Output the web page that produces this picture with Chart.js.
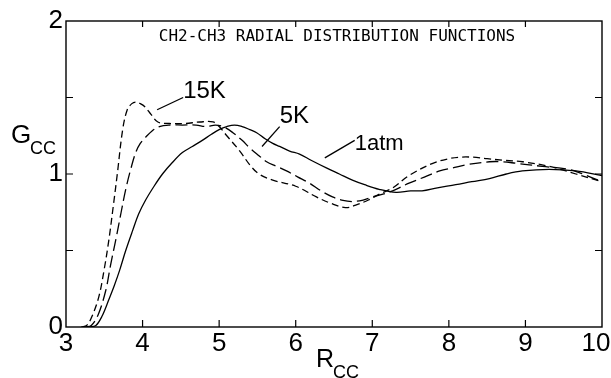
<!DOCTYPE html>
<html>
<head>
<meta charset="utf-8">
<script src="https://cdn.jsdelivr.net/npm/chart.js@4.4.0/dist/chart.umd.min.js"></script>
<style>
  html, body { margin: 0; padding: 0; background: #fff; }
  #wrap { width: 611px; height: 378px; }
</style>
</head>
<body>
<div id="wrap"><canvas id="rdfChart" width="611" height="378"></canvas></div>
<script>
// CH2-CH3 radial distribution functions
var r15K = [3.20, 3.27, 3.34, 3.43, 3.50, 3.56, 3.62, 3.67, 3.74, 3.80, 3.86, 3.91, 3.97, 4.03, 4.11, 4.20, 4.35, 4.55, 4.75, 4.92, 5.00, 5.10, 5.27, 5.40, 5.52, 5.70, 6.00, 6.27, 6.45, 6.65, 6.80, 6.95, 7.10, 7.27, 7.48, 7.79, 8.00, 8.14, 8.31, 8.50, 8.70, 8.96, 9.31, 9.66, 10.0];
var g15K = [0.00, 0.01, 0.07, 0.20, 0.38, 0.57, 0.80, 1.00, 1.29, 1.42, 1.46, 1.47, 1.46, 1.44, 1.39, 1.34, 1.33, 1.33, 1.34, 1.34, 1.31, 1.25, 1.15, 1.06, 1.00, 0.96, 0.92, 0.85, 0.81, 0.78, 0.80, 0.83, 0.87, 0.91, 0.99, 1.07, 1.10, 1.11, 1.11, 1.10, 1.09, 1.08, 1.05, 1.00, 0.95];

var r5K = [3.25, 3.33, 3.42, 3.52, 3.58, 3.65, 3.72, 3.78, 3.85, 3.91, 3.97, 4.04, 4.12, 4.22, 4.35, 4.52, 4.70, 4.83, 4.95, 5.05, 5.18, 5.30, 5.40, 5.52, 5.62, 5.75, 5.88, 6.03, 6.18, 6.33, 6.48, 6.60, 6.74, 6.88, 7.00, 7.15, 7.31, 7.48, 7.68, 7.88, 8.05, 8.22, 8.53, 8.70, 8.88, 9.22, 9.57, 9.80, 10.0];
var g5K = [0.00, 0.01, 0.08, 0.24, 0.40, 0.57, 0.75, 0.90, 1.04, 1.14, 1.20, 1.24, 1.28, 1.31, 1.32, 1.32, 1.32, 1.31, 1.32, 1.31, 1.27, 1.22, 1.17, 1.12, 1.08, 1.05, 1.02, 0.98, 0.94, 0.89, 0.85, 0.83, 0.82, 0.83, 0.85, 0.87, 0.90, 0.94, 0.98, 1.02, 1.04, 1.06, 1.08, 1.08, 1.07, 1.05, 1.03, 0.99, 0.95];

var r1atm = [3.30, 3.39, 3.47, 3.56, 3.63, 3.70, 3.78, 3.87, 3.95, 4.04, 4.15, 4.26, 4.38, 4.52, 4.65, 4.78, 4.90, 5.00, 5.10, 5.20, 5.30, 5.40, 5.49, 5.60, 5.70, 5.79, 5.92, 6.05, 6.20, 6.40, 6.57, 6.74, 6.90, 7.09, 7.31, 7.50, 7.65, 7.85, 8.09, 8.30, 8.53, 8.75, 8.96, 9.31, 9.66, 10.0];
var g1atm = [0.00, 0.01, 0.07, 0.18, 0.27, 0.37, 0.50, 0.63, 0.74, 0.83, 0.92, 1.00, 1.07, 1.14, 1.18, 1.22, 1.26, 1.29, 1.31, 1.32, 1.31, 1.29, 1.27, 1.23, 1.20, 1.18, 1.15, 1.13, 1.09, 1.04, 1.00, 0.96, 0.93, 0.90, 0.88, 0.89, 0.89, 0.91, 0.93, 0.95, 0.97, 1.00, 1.02, 1.03, 1.02, 0.99];

var xTicks = [3, 4, 5, 6, 7, 8, 9, 10];
var yLabels = [0, 1, 2];

function pts(xs, ys) {
    return xs.map(function (x, i) { return { x: x, y: ys[i] }; });
}

// labels with leader lines, in data units
var notes = [
    { text: '15K', from: [4.19, 1.42], to: [4.53, 1.50], at: [4.53, 1.50], size: 24 },
    { text: '5K',  from: [5.56, 1.18], to: [5.79, 1.31], at: [5.79, 1.335], size: 24 },
    { text: '1atm', from: [6.38, 1.105], to: [6.77, 1.22], at: [6.77, 1.16], size: 22 }
];

var framePlugin = {
    id: 'frame',
    beforeDraw: function (chart) {
        // pull the last x label ("10") back inside the canvas
        var items = chart.scales.x.getLabelItems();
        var last = items[items.length - 1];
        if (last && !last._moved) { last.options.translation[0] -= 6; last._moved = true; }
    },
    afterDraw: function (chart) {
        var c = chart.ctx, a = chart.chartArea;
        var xs = chart.scales.x, ys = chart.scales.y;
        c.save();
        c.strokeStyle = '#000';
        c.lineWidth = 1.4;
        c.strokeRect(a.left, a.top, a.right - a.left, a.bottom - a.top);

        // inward ticks on all four sides
        c.lineWidth = 1.2;
        c.beginPath();
        xs.ticks.forEach(function (t) {
            var px = xs.getPixelForValue(t.value);
            if (t.value <= 3 || t.value >= 10) return;
            c.moveTo(px, a.bottom); c.lineTo(px, a.bottom - 7);
            c.moveTo(px, a.top); c.lineTo(px, a.top + 6);
        });
        ys.ticks.forEach(function (t) {
            var py = ys.getPixelForValue(t.value);
            if (t.value <= 0 || t.value >= 2) return;
            c.moveTo(a.left, py); c.lineTo(a.left + 7, py);
            c.moveTo(a.right, py); c.lineTo(a.right - 7, py);
        });
        c.stroke();

        // title inside the frame
        c.fillStyle = '#000';
        c.font = '16px "DejaVu Sans Mono"';
        c.textAlign = 'center';
        c.textBaseline = 'alphabetic';
        c.fillText('CH2-CH3 RADIAL DISTRIBUTION FUNCTIONS', 337, 41);

        // axis titles with subscripts
        c.textAlign = 'left';
        c.font = '26px "Liberation Sans"';
        c.fillText('G', 11, 143);
        c.font = '18px "Liberation Sans"';
        c.fillText('CC', 30, 154);
        c.font = '25px "Liberation Sans"';
        c.fillText('R', 316, 367);
        c.font = '18px "Liberation Sans"';
        c.fillText('CC', 333, 378);

        // curve labels
        c.lineWidth = 1.3;
        notes.forEach(function (n) {
            c.beginPath();
            c.moveTo(xs.getPixelForValue(n.from[0]), ys.getPixelForValue(n.from[1]));
            c.lineTo(xs.getPixelForValue(n.to[0]), ys.getPixelForValue(n.to[1]));
            c.stroke();
            c.font = n.size + 'px "Liberation Sans"';
            c.fillText(n.text, xs.getPixelForValue(n.at[0]), ys.getPixelForValue(n.at[1]));
        });
        c.restore();
    }
};

var ctx = document.getElementById('rdfChart').getContext('2d');

var myChart = new Chart(ctx, {
    type: 'line',
    data: {
        datasets: [
            { label: '15K', data: pts(r15K, g15K), borderDash: [7, 4] },
            { label: '5K', data: pts(r5K, g5K), borderDash: [12, 5] },
            { label: '1atm', data: pts(r1atm, g1atm) }
        ]
    },
    options: {
        responsive: false,
        animation: false,
        layout: { padding: { top: 21, right: 9, left: 0, bottom: 0 } },
        elements: {
            point: { radius: 0 },
            line: { borderColor: '#000', borderWidth: 1.3, tension: 0.35, fill: false }
        },
        plugins: { legend: { display: false }, tooltip: { enabled: false } },
        scales: {
            x: {
                type: 'linear', min: 3, max: 10,
                afterBuildTicks: function (s) { s.ticks = xTicks.map(function (v) { return { value: v }; }); },
                afterFit: function (s) { s.height = 51; s.paddingLeft = 0; s.paddingRight = 0; },
                grid: { display: false, drawTicks: false },
                border: { display: false },
                ticks: { color: '#000', padding: 1, font: { family: 'Liberation Sans', size: 26 }, maxRotation: 0 }
            },
            y: {
                min: 0, max: 2,
                ticks: {
                    stepSize: 0.5, color: '#000', padding: 3,
                    font: { family: 'Liberation Sans', size: 26 },
                    callback: function (v) { return yLabels.indexOf(v) >= 0 ? String(v) : ''; }
                },
                afterFit: function (s) { s.width = 66; s.paddingTop = 0; s.paddingBottom = 0; },
                grid: { display: false, drawTicks: false },
                border: { display: false }
            }
        }
    },
    plugins: [framePlugin]
});
</script>
</body>
</html>
